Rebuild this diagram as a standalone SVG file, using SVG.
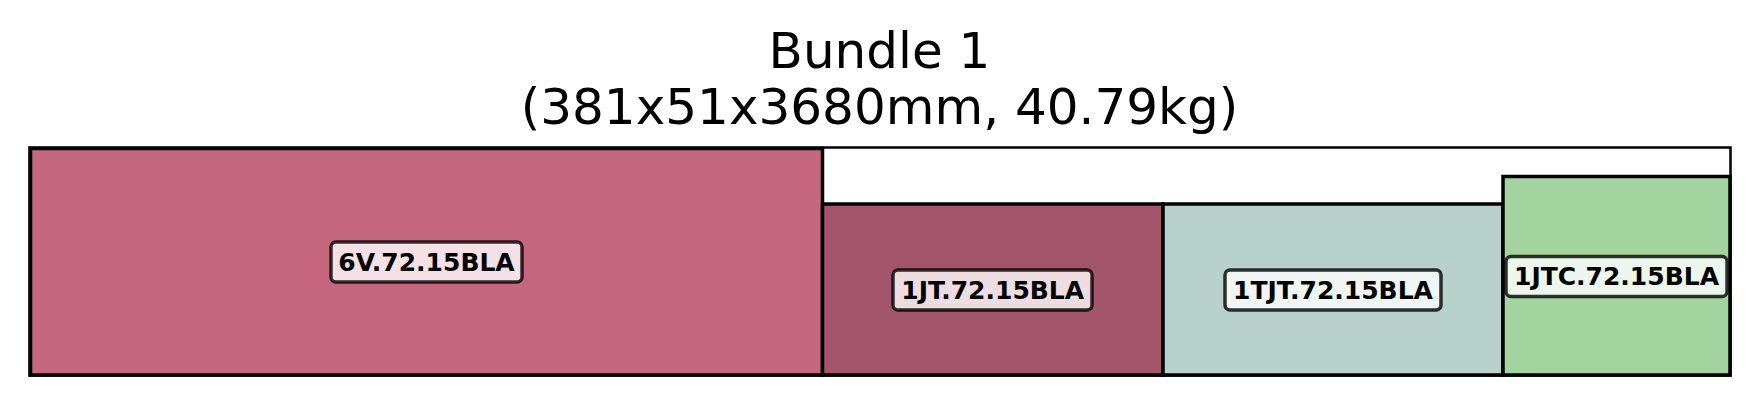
<svg xmlns="http://www.w3.org/2000/svg" width="1759" height="405" viewBox="0 0 1759 405">
<style>
.title{font-family:"DejaVu Sans",sans-serif;font-size:50px;fill:#000;text-anchor:middle}
.item{stroke:#000;stroke-width:3.5}
.lbl{fill:#fff;fill-opacity:0.8;stroke:#000;stroke-opacity:0.8;stroke-width:3.5}
.lt{font-family:"DejaVu Sans",sans-serif;font-weight:bold;font-size:25px;fill:#000;text-anchor:middle}
</style>
<rect width="1759" height="405" fill="#fff"/>
<text class="title" x="879.5" y="67.5">Bundle 1</text>
<text class="title" x="879.5" y="124">(381x51x3680mm, 40.79kg)</text>
<g id="container">
<rect x="29.5" y="147.5" width="1701" height="228" fill="#fff" stroke="#000" stroke-width="2.5"/>
</g>
<g id="item-6V">
<rect class="item" x="30.5" y="148.5" width="792" height="226.5" fill="#c5677f"/>
<rect class="lbl" x="331" y="242" width="191" height="40" rx="5"/>
<text class="lt" x="426.5" y="270.5">6V.72.15BLA</text>
</g>
<g id="item-1JT">
<rect class="item" x="822.5" y="204" width="340.5" height="171" fill="#a3566b"/>
<rect class="lbl" x="893" y="270" width="199" height="40" rx="5"/>
<text class="lt" x="992.7" y="298.5">1JT.72.15BLA</text>
</g>
<g id="item-1TJT">
<rect class="item" x="1163" y="204" width="340" height="171" fill="#b5d1c9"/>
<rect class="lbl" x="1225" y="270" width="216" height="40" rx="5"/>
<text class="lt" x="1333" y="298.5">1TJT.72.15BLA</text>
</g>
<g id="item-1JTC">
<rect class="item" x="1503" y="176.5" width="227" height="198.5" fill="#a3d39e"/>
<rect class="lbl" x="1506" y="256.5" width="221" height="40" rx="5"/>
<text class="lt" x="1616.5" y="285">1JTC.72.15BLA</text>
</g>
<g id="connectors"/>
</svg>
